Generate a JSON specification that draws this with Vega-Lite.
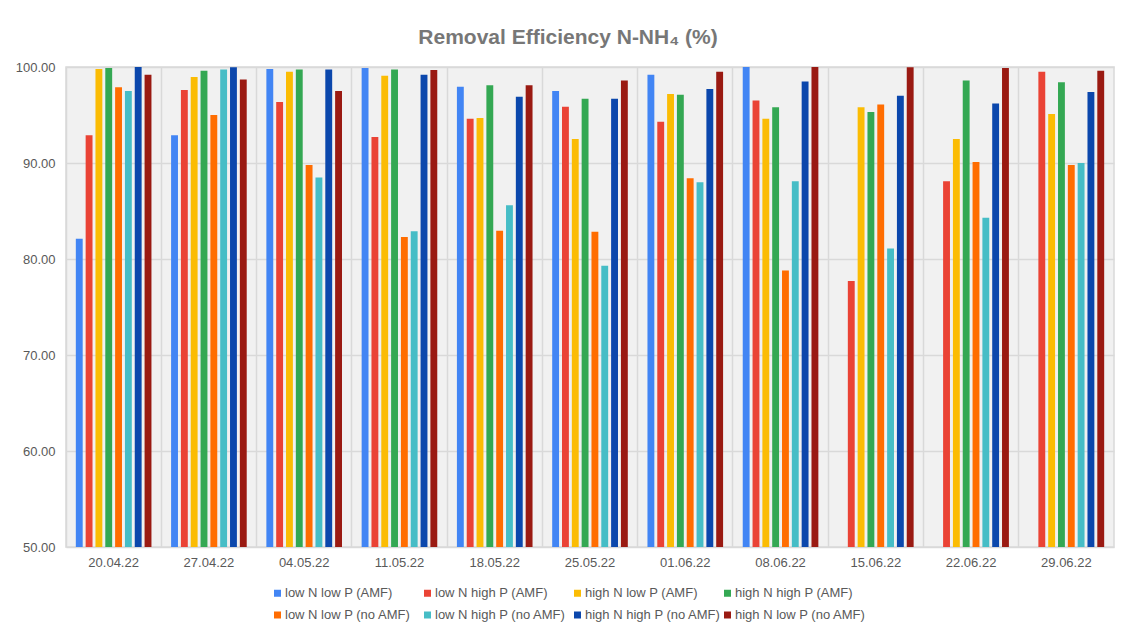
{
  "$schema": "https://vega.github.io/schema/vega-lite/v6.json",
  "autosize": {"type": "none"},
  "width": 1048,
  "height": 480,
  "padding": {"left": 66, "top": 67, "right": 13, "bottom": 83},
  "background": "white",
  "title": {
    "text": "Removal Efficiency N-NH₄ (%)",
    "font": "Liberation Sans",
    "fontSize": 21,
    "fontWeight": "bold",
    "color": "#777777",
    "anchor": "middle",
    "dx": -22,
    "offset": 13
  },
  "config": {
    "font": "Liberation Sans",
    "view": {"stroke": "#D9D9D9", "strokeWidth": 1.5, "fill": "#F1F1F1"}
  },
  "data": {
    "values": [
      {"date": "20.04.22", "series": "low N low P (AMF)", "value": 82.1},
      {"date": "20.04.22", "series": "low N high P (AMF)", "value": 92.9},
      {"date": "20.04.22", "series": "high N low P (AMF)", "value": 99.8},
      {"date": "20.04.22", "series": "high N high P (AMF)", "value": 99.9},
      {"date": "20.04.22", "series": "low N low P (no AMF)", "value": 97.9},
      {"date": "20.04.22", "series": "low N high P (no AMF)", "value": 97.5},
      {"date": "20.04.22", "series": "high N high P (no AMF)", "value": 100.0},
      {"date": "20.04.22", "series": "high N low P (no AMF)", "value": 99.2},

      {"date": "27.04.22", "series": "low N low P (AMF)", "value": 92.9},
      {"date": "27.04.22", "series": "low N high P (AMF)", "value": 97.6},
      {"date": "27.04.22", "series": "high N low P (AMF)", "value": 98.95},
      {"date": "27.04.22", "series": "high N high P (AMF)", "value": 99.6},
      {"date": "27.04.22", "series": "low N low P (no AMF)", "value": 95.0},
      {"date": "27.04.22", "series": "low N high P (no AMF)", "value": 99.75},
      {"date": "27.04.22", "series": "high N high P (no AMF)", "value": 99.97},
      {"date": "27.04.22", "series": "high N low P (no AMF)", "value": 98.7},

      {"date": "04.05.22", "series": "low N low P (AMF)", "value": 99.8},
      {"date": "04.05.22", "series": "low N high P (AMF)", "value": 96.35},
      {"date": "04.05.22", "series": "high N low P (AMF)", "value": 99.5},
      {"date": "04.05.22", "series": "high N high P (AMF)", "value": 99.75},
      {"date": "04.05.22", "series": "low N low P (no AMF)", "value": 89.8},
      {"date": "04.05.22", "series": "low N high P (no AMF)", "value": 88.5},
      {"date": "04.05.22", "series": "high N high P (no AMF)", "value": 99.75},
      {"date": "04.05.22", "series": "high N low P (no AMF)", "value": 97.5},

      {"date": "11.05.22", "series": "low N low P (AMF)", "value": 99.9},
      {"date": "11.05.22", "series": "low N high P (AMF)", "value": 92.7},
      {"date": "11.05.22", "series": "high N low P (AMF)", "value": 99.1},
      {"date": "11.05.22", "series": "high N high P (AMF)", "value": 99.75},
      {"date": "11.05.22", "series": "low N low P (no AMF)", "value": 82.3},
      {"date": "11.05.22", "series": "low N high P (no AMF)", "value": 82.9},
      {"date": "11.05.22", "series": "high N high P (no AMF)", "value": 99.2},
      {"date": "11.05.22", "series": "high N low P (no AMF)", "value": 99.7},

      {"date": "18.05.22", "series": "low N low P (AMF)", "value": 97.95},
      {"date": "18.05.22", "series": "low N high P (AMF)", "value": 94.6},
      {"date": "18.05.22", "series": "high N low P (AMF)", "value": 94.7},
      {"date": "18.05.22", "series": "high N high P (AMF)", "value": 98.1},
      {"date": "18.05.22", "series": "low N low P (no AMF)", "value": 82.95},
      {"date": "18.05.22", "series": "low N high P (no AMF)", "value": 85.6},
      {"date": "18.05.22", "series": "high N high P (no AMF)", "value": 96.9},
      {"date": "18.05.22", "series": "high N low P (no AMF)", "value": 98.1},

      {"date": "25.05.22", "series": "low N low P (AMF)", "value": 97.5},
      {"date": "25.05.22", "series": "low N high P (AMF)", "value": 95.85},
      {"date": "25.05.22", "series": "high N low P (AMF)", "value": 92.5},
      {"date": "25.05.22", "series": "high N high P (AMF)", "value": 96.7},
      {"date": "25.05.22", "series": "low N low P (no AMF)", "value": 82.85},
      {"date": "25.05.22", "series": "low N high P (no AMF)", "value": 79.3},
      {"date": "25.05.22", "series": "high N high P (no AMF)", "value": 96.7},
      {"date": "25.05.22", "series": "high N low P (no AMF)", "value": 98.6},

      {"date": "01.06.22", "series": "low N low P (AMF)", "value": 99.2},
      {"date": "01.06.22", "series": "low N high P (AMF)", "value": 94.3},
      {"date": "01.06.22", "series": "high N low P (AMF)", "value": 97.2},
      {"date": "01.06.22", "series": "high N high P (AMF)", "value": 97.1},
      {"date": "01.06.22", "series": "low N low P (no AMF)", "value": 88.4},
      {"date": "01.06.22", "series": "low N high P (no AMF)", "value": 88.0},
      {"date": "01.06.22", "series": "high N high P (no AMF)", "value": 97.7},
      {"date": "01.06.22", "series": "high N low P (no AMF)", "value": 99.5},

      {"date": "08.06.22", "series": "low N low P (AMF)", "value": 100.0},
      {"date": "08.06.22", "series": "low N high P (AMF)", "value": 96.5},
      {"date": "08.06.22", "series": "high N low P (AMF)", "value": 94.6},
      {"date": "08.06.22", "series": "high N high P (AMF)", "value": 95.8},
      {"date": "08.06.22", "series": "low N low P (no AMF)", "value": 78.8},
      {"date": "08.06.22", "series": "low N high P (no AMF)", "value": 88.1},
      {"date": "08.06.22", "series": "high N high P (no AMF)", "value": 98.5},
      {"date": "08.06.22", "series": "high N low P (no AMF)", "value": 100.0},

      {"date": "15.06.22", "series": "low N high P (AMF)", "value": 77.7},
      {"date": "15.06.22", "series": "high N low P (AMF)", "value": 95.8},
      {"date": "15.06.22", "series": "high N high P (AMF)", "value": 95.3},
      {"date": "15.06.22", "series": "low N low P (no AMF)", "value": 96.1},
      {"date": "15.06.22", "series": "low N high P (no AMF)", "value": 81.1},
      {"date": "15.06.22", "series": "high N high P (no AMF)", "value": 97.0},
      {"date": "15.06.22", "series": "high N low P (no AMF)", "value": 99.97},

      {"date": "22.06.22", "series": "low N high P (AMF)", "value": 88.1},
      {"date": "22.06.22", "series": "high N low P (AMF)", "value": 92.5},
      {"date": "22.06.22", "series": "high N high P (AMF)", "value": 98.6},
      {"date": "22.06.22", "series": "low N low P (no AMF)", "value": 90.1},
      {"date": "22.06.22", "series": "low N high P (no AMF)", "value": 84.3},
      {"date": "22.06.22", "series": "high N high P (no AMF)", "value": 96.2},
      {"date": "22.06.22", "series": "high N low P (no AMF)", "value": 99.9},

      {"date": "29.06.22", "series": "low N high P (AMF)", "value": 99.5},
      {"date": "29.06.22", "series": "high N low P (AMF)", "value": 95.1},
      {"date": "29.06.22", "series": "high N high P (AMF)", "value": 98.4},
      {"date": "29.06.22", "series": "low N low P (no AMF)", "value": 89.8},
      {"date": "29.06.22", "series": "low N high P (no AMF)", "value": 90.0},
      {"date": "29.06.22", "series": "high N high P (no AMF)", "value": 97.4},
      {"date": "29.06.22", "series": "high N low P (no AMF)", "value": 99.6}
    ]
  },
  "mark": {"type": "bar", "clip": true},
  "encoding": {
    "x": {
      "field": "date",
      "type": "nominal",
      "sort": ["20.04.22","27.04.22","04.05.22","11.05.22","18.05.22","25.05.22","01.06.22","08.06.22","15.06.22","22.06.22","29.06.22"],
      "scale": {"paddingInner": 0, "paddingOuter": 0},
      "axis": {
        "title": null,
        "labelAngle": 0,
        "labelFontSize": 13,
        "labelColor": "#595959",
        "labelPadding": 9,
        "ticks": false,
        "domain": false,
        "grid": true,
        "bandPosition": 0,
        "gridColor": "#D9D9D9",
        "gridWidth": 1.5
      }
    },
    "xOffset": {
      "field": "series",
      "type": "nominal",
      "scale": {
        "domain": ["low N low P (AMF)","low N high P (AMF)","high N low P (AMF)","high N high P (AMF)","low N low P (no AMF)","low N high P (no AMF)","high N high P (no AMF)","high N low P (no AMF)"],
        "paddingInner": 0.3,
        "paddingOuter": 1.17
      }
    },
    "y": {
      "field": "value",
      "type": "quantitative",
      "scale": {"domain": [50, 100], "nice": false, "zero": false},
      "axis": {
        "title": null,
        "values": [50, 60, 70, 80, 90, 100],
        "format": ".2f",
        "labelFontSize": 13,
        "labelColor": "#595959",
        "labelPadding": 11,
        "ticks": false,
        "domain": false,
        "gridColor": "#D9D9D9",
        "gridWidth": 1.5
      }
    },
    "color": {
      "field": "series",
      "type": "nominal",
      "scale": {
        "domain": ["low N low P (AMF)","low N high P (AMF)","high N low P (AMF)","high N high P (AMF)","low N low P (no AMF)","low N high P (no AMF)","high N high P (no AMF)","high N low P (no AMF)"],
        "range": ["#4285F4","#EA4335","#FBBC04","#34A853","#FF6D01","#46BDC6","#0B47AC","#9A1A12"]
      },
      "legend": {
        "title": null,
        "orient": "none",
        "legendX": 205,
        "legendY": 519.5,
        "direction": "horizontal",
        "columns": 4,
        "gridAlign": "all",
        "symbolType": "square",
        "symbolSize": 49,
        "symbolStrokeWidth": 0,
        "labelFontSize": 13,
        "labelColor": "#595959",
        "labelOffset": 1,
        "columnPadding": -1,
        "rowPadding": 8
      }
    }
  }
}
